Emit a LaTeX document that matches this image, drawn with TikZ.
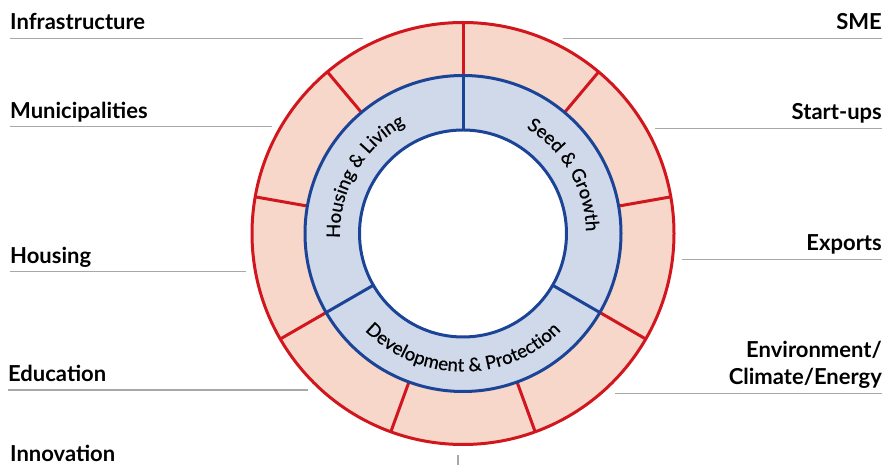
\documentclass[tikz,border=0pt]{standalone}
\usepackage{fontspec}
\setmainfont{Lato}
\newfontfamily\ringfam[FakeBold=0.6]{Lato}
\usetikzlibrary{decorations.text}
\definecolor{ringred}{RGB}{210,22,30}
\definecolor{ringpink}{RGB}{246,215,202}
\definecolor{ringblue}{RGB}{28,68,150}
\definecolor{ringlight}{RGB}{207,217,234}
\definecolor{rulegray}{RGB}{168,168,168}
\newcommand{\labfont}{\fontsize{22}{24}\selectfont\bfseries}
\newcommand{\ringfont}{\ringfam\fontsize{18.5}{20}\selectfont}
\tikzset{
  lab/.style={inner sep=0pt, font=\labfont},
  rule/.style={draw=rulegray, line width=1.3pt},
  redline/.style={draw=ringred, line width=3pt},
  blueline/.style={draw=ringblue, line width=3pt},
  ringtext/.style={decorate, decoration={text along path, text align=center}}
}
\begin{document}
\begin{tikzpicture}[x=1pt,y=1pt]
\useasboundingbox (0,0) rectangle (884,465);
\coordinate (c) at (463,231.5);
% outer ring
\fill[ringpink, even odd rule] (c) circle[radius=211] (c) circle[radius=158];
\draw[redline] (c) circle[radius=211];
\foreach \a in {10,50,...,330}
  \draw[redline] ([shift={(\a:157)}]c) -- ([shift={(\a:211)}]c);
% inner ring
\fill[ringlight, even odd rule] (c) circle[radius=158] (c) circle[radius=103.5];
\draw[blueline] (c) circle[radius=158];
\draw[blueline] (c) circle[radius=103.5];
\foreach \a in {90,210,330}
  \draw[blueline] ([shift={(\a:103.5)}]c) -- ([shift={(\a:158)}]c);
% ring texts
\path[ringtext, decoration={text={|\ringfont|Housing {\&} Living}}]
  ([shift={(210:123)}]c) arc[start angle=210, end angle=90, radius=123];
\path[ringtext, decoration={text={|\ringfont|Seed {\&} Growth}}]
  ([shift={(90:123)}]c) arc[start angle=90, end angle=-30, radius=123];
\path[ringtext, decoration={text={|\ringfont|Development {\&} Protection}}]
  ([shift={(210:138)}]c) arc[start angle=210, end angle=330, radius=138];
% left labels
\node[lab, anchor=base west] (infra) at (10,435) {Infrastructure};
\node[lab, anchor=base west] (munic) at (10,346.7) {Municipalities};
\node[lab, anchor=base west] (housing) at (10,201.7) {Housing};
\node[lab, anchor=base west] (edu) at (8,83.3) {Education};
\node[lab, anchor=base west] (innov) at (10,3.3) {Innovation};
\draw[rule] (10,426.7) -- (363,426.7);
\draw[rule] (10,338.3) -- (272,338.3);
\draw[rule] (10,193.3) -- (246,193.3);
\draw[rule] (8,75) -- (308,75);
% right labels
\node[lab, anchor=base east] (sme) at (882,435.7) {SME};
\node[lab, anchor=base east] (startups) at (882,345.7) {Start-ups};
\node[lab, anchor=base east] (exports) at (882,214) {Exports};
\node[lab, anchor=base east] (env) at (882,107.7) {Environment/};
\node[lab, anchor=base east] (climate) at (882,80) {Climate/Energy};
\draw[rule] (563,426.7) -- (882,426.7);
\draw[rule] (655,336.7) -- (882,336.7);
\draw[rule] (682,205.7) -- (882,205.7);
\draw[rule] (615,71.7) -- (882,71.7);
\draw[rule] (458,10) -- (458,0);
\end{tikzpicture}
\end{document}
